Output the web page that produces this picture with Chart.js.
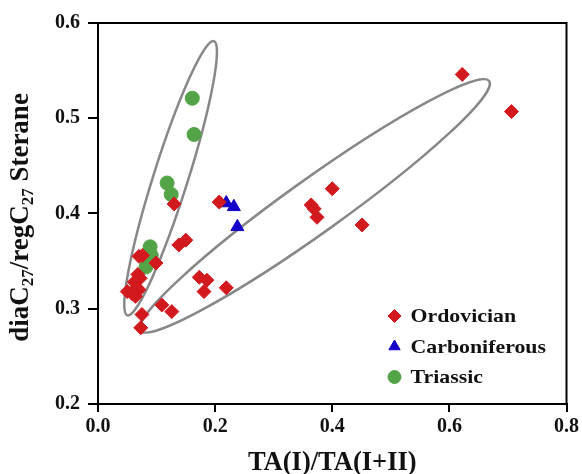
<!DOCTYPE html>
<html>
<head>
<meta charset="utf-8">
<script src="https://cdn.jsdelivr.net/npm/chart.js@4.4.0/dist/chart.umd.min.js"></script>
<style>
  html, body { margin: 0; padding: 0; background: #fff; }
  #wrap { width: 582px; height: 474px; }
</style>
</head>
<body>
<div id="wrap"><canvas id="c"></canvas></div>
<script>
// values
var ordovicianX = [0.622, 0.706, 0.400, 0.364, 0.369, 0.374, 0.451, 0.207, 0.130, 0.138, 0.150,
                   0.173, 0.186, 0.181, 0.219, 0.109, 0.126, 0.075, 0.073, 0.099, 0.076, 0.070,
                   0.068, 0.072, 0.062, 0.066, 0.060, 0.070, 0.064, 0.058, 0.050];
var ordovicianY = [0.546, 0.507, 0.426, 0.409, 0.405, 0.396, 0.388, 0.412, 0.410, 0.367, 0.372,
                   0.333, 0.330, 0.318, 0.322, 0.304, 0.297, 0.294, 0.280, 0.348, 0.356, 0.355,
                   0.336, 0.332, 0.328, 0.322, 0.318, 0.320, 0.313, 0.316, 0.318];
var carbX = [0.219, 0.232, 0.238];
var carbY = [0.411, 0.407, 0.386];
var triasX = [0.161, 0.164, 0.118, 0.125, 0.089, 0.091, 0.082];
var triasY = [0.521, 0.483, 0.432, 0.420, 0.365, 0.356, 0.344];

// ellipse outlines: tips of the long axis (x1,y1,x2,y2) and width ratio
var ellipseTips = [[0.050, 0.293, 0.198, 0.581], [0.072, 0.277, 0.668, 0.539]];
var ellipseRatio = [0.12, 0.126];

var xTicks = [0, 0.2, 0.4, 0.6, 0.8];
var yTicks = [0.2, 0.3, 0.4, 0.5, 0.6];

function pts(xs, ys) {
  var out = [];
  for (var i = 0; i < xs.length; i++) out.push({x: xs[i], y: ys[i]});
  return out;
}

var serif = '"Liberation Serif", "Times New Roman", serif';

var ellipsePlugin = {
  id: 'ellipses',
  beforeDatasetsDraw: function(chart) {
    var ctx = chart.ctx, xs = chart.scales.x, ys = chart.scales.y;
    ctx.save();
    ctx.strokeStyle = '#888888';
    ctx.lineWidth = 2.5;
    for (var i = 0; i < ellipseTips.length; i++) {
      var t = ellipseTips[i];
      var x1 = xs.getPixelForValue(t[0]), y1 = ys.getPixelForValue(t[1]);
      var x2 = xs.getPixelForValue(t[2]), y2 = ys.getPixelForValue(t[3]);
      var a = Math.hypot(x2 - x1, y2 - y1) / 2;
      ctx.beginPath();
      ctx.ellipse((x1 + x2) / 2, (y1 + y2) / 2, a, a * ellipseRatio[i], Math.atan2(y2 - y1, x2 - x1), 0, Math.PI * 2);
      ctx.stroke();
    }
    ctx.restore();
  }
};

var framePlugin = {
  id: 'frame',
  afterDraw: function(chart) {
    var ctx = chart.ctx, a = chart.chartArea;
    ctx.save();
    ctx.strokeStyle = '#000';
    ctx.lineWidth = 2;
    ctx.strokeRect(a.left, a.top, a.right - a.left, a.bottom - a.top);

    // legend inside the plot
    var lx = a.right - 172, ly = a.bottom - 88;
    chart.data.datasets.forEach(function(ds, i) {
      var y = ly + i * 30.5;
      ctx.fillStyle = ds.backgroundColor;
      ctx.strokeStyle = ds.backgroundColor;
      ctx.lineWidth = 1;
      Chart.helpers.drawPoint(ctx, {pointStyle: ds.pointStyle, radius: 6.5, borderWidth: 1}, lx, y);
      ctx.save();
      ctx.translate(lx + 16, y + 1);
      ctx.scale(1.12, 1);
      ctx.fillStyle = '#111';
      ctx.font = 'bold 19.5px ' + serif;
      ctx.textBaseline = 'middle';
      ctx.textAlign = 'left';
      ctx.fillText(ds.label, 0, 0);
      ctx.restore();
    });

    // y-axis title with subscripts
    var parts = [['diaC', 0], ['27', 1], ['/regC', 0], ['27', 1], [' Sterane', 0]];
    var big = 'bold 27px ' + serif, small = 'bold 17px ' + serif;
    var total = 0;
    parts.forEach(function(p) { ctx.font = p[1] ? small : big; total += ctx.measureText(p[0]).width; });
    ctx.translate(22, (a.top + a.bottom) / 2 + 4);
    ctx.rotate(-Math.PI / 2);
    ctx.fillStyle = '#111';
    ctx.textBaseline = 'alphabetic';
    var cx = -total / 2;
    parts.forEach(function(p) {
      ctx.font = p[1] ? small : big;
      ctx.fillText(p[0], cx, p[1] ? 11 : 6);
      cx += ctx.measureText(p[0]).width;
    });
    ctx.restore();
  }
};

new Chart(document.getElementById('c'), {
  type: 'scatter',
  data: {
    datasets: [
      { label: 'Ordovician', data: pts(ordovicianX, ordovicianY), pointStyle: 'rectRot',
        backgroundColor: '#d2191e', borderColor: '#d2191e', pointRadius: 7, borderWidth: 1 },
      { label: 'Carboniferous', data: pts(carbX, carbY), pointStyle: 'triangle',
        backgroundColor: '#1400c8', borderColor: '#1400c8', pointRadius: 7.5, borderWidth: 1 },
      { label: 'Triassic', data: pts(triasX, triasY), pointStyle: 'circle',
        backgroundColor: '#52a447', borderColor: '#52a447', pointRadius: 7, borderWidth: 1 }
    ]
  },
  options: {
    responsive: true,
    maintainAspectRatio: false,
    animation: false,
    events: [],
    layout: { padding: { top: 23, right: 15, left: 0, bottom: 0 } },
    plugins: { legend: { display: false }, tooltip: { enabled: false } },
    scales: {
      x: {
        type: 'linear', min: 0, max: 0.8,
        afterBuildTicks: function(s) { s.ticks = xTicks.map(function(v) { return {value: v}; }); },
        afterFit: function(s) { s.height = 70; },
        grid: { drawOnChartArea: false, color: '#000', tickLength: 8, lineWidth: 2 },
        border: { color: '#000', width: 2 },
        ticks: { color: '#111', padding: 3, font: { family: serif, size: 20, weight: 'bold' },
                 callback: function(v) { return v.toFixed(1); } },
        title: { display: true, text: 'TA(I)/TA(I+II)', color: '#111', padding: { top: 4, bottom: 0 },
                 font: { family: serif, size: 26.5, weight: 'bold', lineHeight: 0.85 } }
      },
      y: {
        type: 'linear', min: 0.2, max: 0.6,
        afterBuildTicks: function(s) { s.ticks = yTicks.map(function(v) { return {value: v}; }); },
        afterFit: function(s) { s.width = 98; },
        grid: { drawOnChartArea: false, color: '#000', tickLength: 10, lineWidth: 2 },
        border: { color: '#000', width: 2 },
        ticks: { color: '#111', padding: 8, font: { family: serif, size: 20, weight: 'bold' },
                 callback: function(v) { return v.toFixed(1); } }
      }
    }
  },
  plugins: [ellipsePlugin, framePlugin]
});
</script>
</body>
</html>
